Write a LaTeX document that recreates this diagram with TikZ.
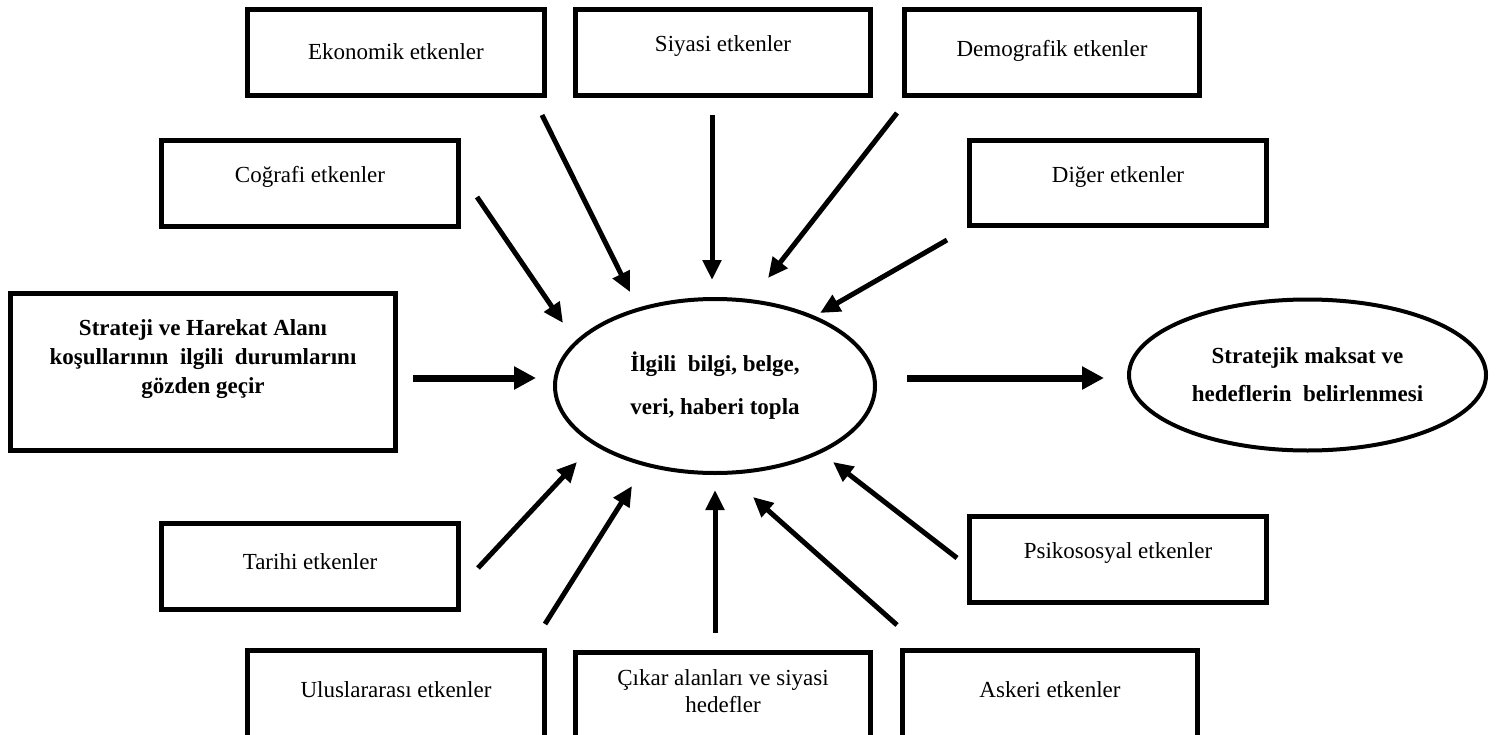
\documentclass[tikz,border=0pt]{standalone}
\usepackage{fontspec}
\setmainfont{Liberation Serif}
\usetikzlibrary{arrows.meta,shapes.geometric}
\begin{document}
\begin{tikzpicture}[x=1pt,y=-1pt,
  box/.style={draw, line width=5pt, inner sep=0pt, rectangle},
  txt/.style={font=\fontsize{23}{27}\selectfont, align=center, inner sep=0pt},
  oval/.style={draw, ellipse, line width=4pt, inner sep=0pt, align=center,
               font=\fontsize{23}{43}\selectfont\bfseries},
  arr/.style={line width=5pt, -{Triangle[length=20pt,width=18pt]}},
  harr/.style={line width=7pt, -{Triangle[length=22pt,width=22pt]}}]
\useasboundingbox (0,0) rectangle (1503,735);
\clip (0,0) rectangle (1503,735);
% boxes
\node[box, minimum width=297pt, minimum height=86pt] (eko) at (396,52.5) {};
\node[txt] (ekot) at (396,52) {Ekonomik etkenler};
\node[box, minimum width=295pt, minimum height=86pt] (siy) at (723,52.5) {};
\node[txt] (siyt) at (723,46) {Siyasi etkenler};
\node[box, minimum width=295pt, minimum height=86pt] (dem) at (1052,52.5) {};
\node[txt] (demt) at (1052,51) {Demografik etkenler};
\node[box, minimum width=297pt, minimum height=86pt] (cog) at (310,183.5) {};
\node[txt] (cogt) at (310,177) {Coğrafi etkenler};
\node[box, minimum width=297pt, minimum height=85pt] (dig) at (1118,183) {};
\node[txt] (digt) at (1118,177) {Diğer etkenler};
\node[box, minimum width=385pt, minimum height=157pt] (str) at (203,372) {};
\node[txt, font=\fontsize{23}{29}\selectfont\bfseries] (strt) at (203,359)
  {Strateji ve Harekat Alanı\\koşullarının\ \ ilgili\ \ durumlarını\\gözden geçir};
\node[box, minimum width=297pt, minimum height=86pt] (tar) at (310,566.5) {};
\node[txt] (tart) at (310,562) {Tarihi etkenler};
\node[box, minimum width=297pt, minimum height=86pt] (psi) at (1118,559.5) {};
\node[txt] (psit) at (1118,553) {Psikososyal etkenler};
\node[box, minimum width=297pt, minimum height=87pt] (ulu) at (396,694) {};
\node[txt] (ulut) at (396,690) {Uluslararası etkenler};
\node[box, minimum width=295pt, minimum height=85pt] (cik) at (723,695) {};
\node[txt] (cikt) at (723,691) {Çıkar alanları ve siyasi\\hedefler};
\node[box, minimum width=295pt, minimum height=87pt] (ask) at (1050,694) {};
\node[txt] (askt) at (1050,690) {Askeri etkenler};
% ellipses
\node[oval, minimum width=320pt, minimum height=174pt] (topla) at (715,386)
  {İlgili\ \ bilgi, belge,\\veri, haberi topla};
\node[oval, minimum width=357pt, minimum height=151pt, font=\fontsize{23}{38}\selectfont\bfseries] (hedef) at (1307.5,375)
  {Stratejik maksat ve\\hedeflerin\ \ belirlenmesi};
% arrow end points
\coordinate (a1s) at (542,115); \coordinate (a1e) at (630,292);
\coordinate (a2s) at (712,115); \coordinate (a2e) at (712,280);
\coordinate (a3s) at (897,113); \coordinate (a3e) at (768,278);
\coordinate (a4s) at (477,197); \coordinate (a4e) at (563,323);
\coordinate (a5s) at (947,240); \coordinate (a5e) at (820,313);
\coordinate (a6s) at (413,378); \coordinate (a6e) at (536,378);
\coordinate (a7s) at (907,378); \coordinate (a7e) at (1104,378);
\coordinate (a8s) at (478,568); \coordinate (a8e) at (577,462);
\coordinate (a9s) at (545,624); \coordinate (a9e) at (632,486);
\coordinate (a10s) at (715,633); \coordinate (a10e) at (715,490);
\coordinate (a11s) at (897,625); \coordinate (a11e) at (753,497);
\coordinate (a12s) at (957,558); \coordinate (a12e) at (833,462);
\draw[arr] (a1s) -- (a1e);
\draw[arr] (a2s) -- (a2e);
\draw[arr] (a3s) -- (a3e);
\draw[arr] (a4s) -- (a4e);
\draw[arr] (a5s) -- (a5e);
\draw[harr] (a6s) -- (a6e);
\draw[harr] (a7s) -- (a7e);
\draw[arr] (a8s) -- (a8e);
\draw[arr] (a9s) -- (a9e);
\draw[arr] (a10s) -- (a10e);
\draw[arr] (a11s) -- (a11e);
\draw[arr] (a12s) -- (a12e);
\end{tikzpicture}
\end{document}
